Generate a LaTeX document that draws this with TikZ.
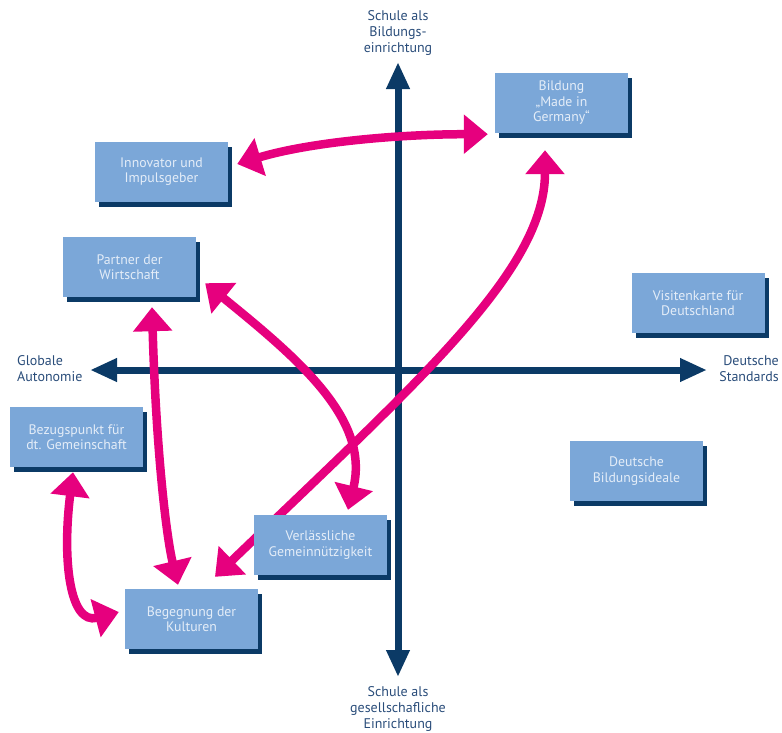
\documentclass[tikz,border=0pt]{standalone}
\usepackage{fontspec}
\setmainfont{PT Sans}
\usetikzlibrary{arrows.meta,shadows,backgrounds}
\definecolor{achsblau}{HTML}{0B3A66}
\definecolor{kastblau}{HTML}{7BA7D8}
\definecolor{kasttext}{HTML}{E4EDF8}
\definecolor{beschrift}{HTML}{2A4D7A}
\definecolor{magenta}{HTML}{E6007E}
\tikzset{
	feld/.style={rectangle, fill=kastblau, text=kasttext, 
		font=\fontsize{13.8}{15.5}\selectfont, minimum width=133pt, 
		minimum height=60pt, align=center, inner sep=0pt,
		drop shadow={shadow xshift=4pt, shadow yshift=-5pt, fill=achsblau, opacity=1}},
	achstext/.style={text=beschrift, font=\fontsize{14}{16}\selectfont, 
		align=center, inner sep=0pt},
	achspfeil/.style={draw=achsblau, line width=7pt, 
		{Triangle[length=27pt,width=22pt]}-{Triangle[length=27pt,width=22pt]}},
	bezug/.style={draw=magenta, line width=8.5pt, 
		{Triangle[length=24pt,width=38pt]}-{Triangle[length=24pt,width=38pt]}}
}
\begin{document}
\begin{tikzpicture}[x=1pt,y=-1pt]
	\useasboundingbox (0,0) rectangle (782,732);
	
	\node[feld] (bildung) at (561.5,103) {Bildung\\„Made in\\Germany“};
	\node[feld] (innov) at (161.5,171.5) {Innovator und\\Impulsgeber};
	\node[feld] (partner) at (129.5,267) {Partner der\\Wirtschaft};
	\node[feld] (visite) at (698,303) {Visitenkarte für\\Deutschland};
	\node[feld] (bezug) at (76.5,437) {Bezugspunkt für\\dt. Gemeinschaft};
	\node[feld] (ideale) at (636.5,471) {Deutsche\\Bildungsideale};
	\node[feld] (verl) at (320.5,545) {Verlässliche\\Gemeinnützigkeit};
	\node[feld] (begeg) at (191.5,619) {Begegnung der\\Kulturen};
	
	\node[achstext] (oben) at (398,33) {Schule als\\Bildungs-\\einrichtung};
	\node[achstext] (unten) at (398,709) {Schule als\\gesellschafliche\\Einrichtung};
	\node[achstext, anchor=west, align=left] (links) at (17,369) {Globale\\Autonomie};
	\node[achstext, anchor=east, align=right] (rechts) at (779,369) {Deutsche\\Standards};
	
	\coordinate (nord) at (398,62);
	\coordinate (sued) at (398,677);
	\coordinate (west) at (90,370);
	\coordinate (ost) at (707,370);
	
	\begin{scope}[on background layer]
		\draw[achspfeil] (sued) -- (nord);
		\draw[achspfeil] (west) -- (ost);
		
		\draw[bezug] ([shift={(9,-7.5)}]innov.east) .. controls +(73,-22) and +(-88,0) .. ([shift={(-7,1)}]bildung.south west);
		\draw[bezug] ([shift={(23.5,-12)}]begeg.north) .. controls +(205,-197) and +(0,120) .. ([shift={(-16.5,17)}]bildung.south);
		\draw[bezug] ([shift={(9,-14)}]partner.south east) .. controls +(95,77) and +(22,-90) .. ([shift={(27.5,-5)}]verl.north);
		\draw[bezug] ([shift={(22.5,10)}]partner.south) .. controls +(4,140) and +(-12,-50) .. ([shift={(-13.5,-4)}]begeg.north);
		\draw[bezug] ([shift={(-3.5,5)}]bezug.south) .. controls +(-11,88) and +(-49,13) .. ([shift={(-6,-7)}]begeg.west);
	\end{scope}
\end{tikzpicture}
\end{document}
